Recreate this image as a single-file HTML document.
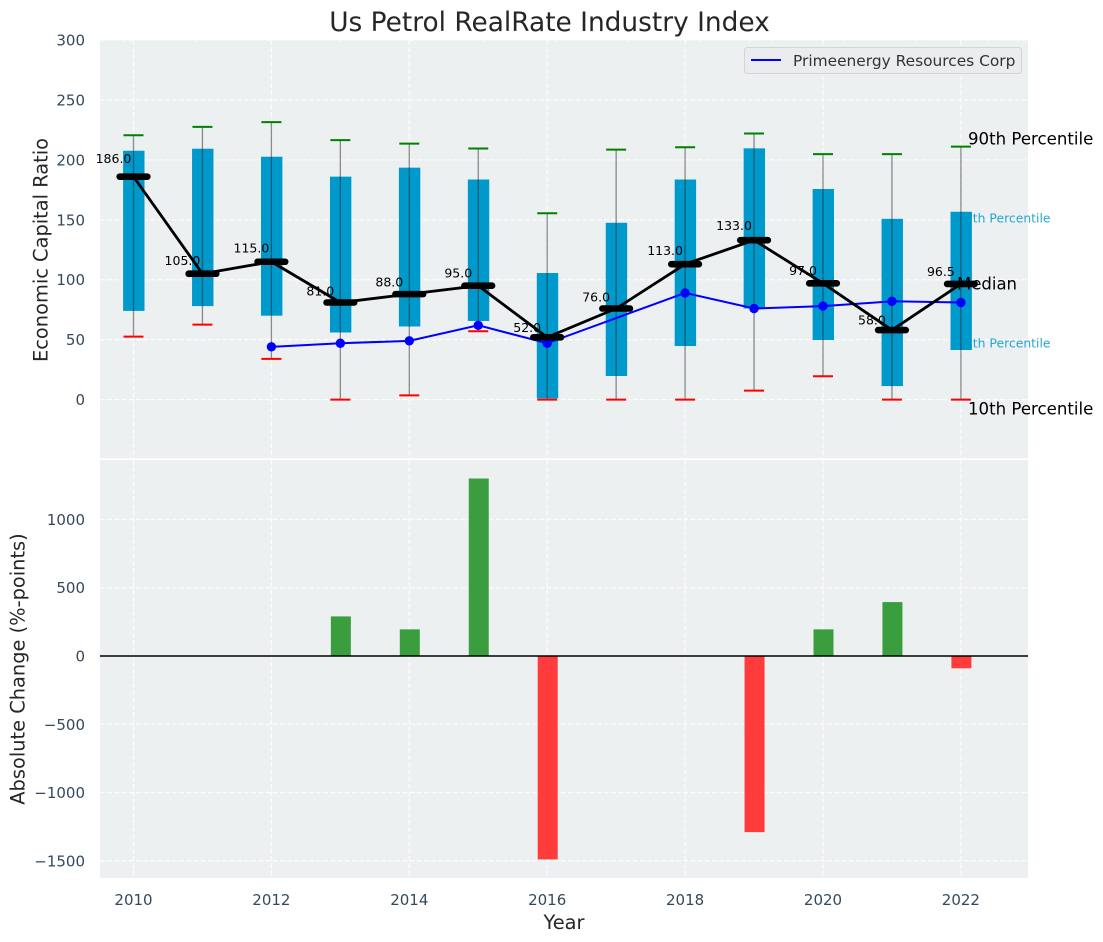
<!DOCTYPE html>
<html lang="en">
<head>
<meta charset="utf-8">
<title>Us Petrol RealRate Industry Index</title>
<style>
html,body{margin:0;padding:0;background:#fff;}
svg{display:block;font-family:"DejaVu Sans","Liberation Sans",sans-serif;}
</style>
</head>
<body>
<svg id="chart" xmlns="http://www.w3.org/2000/svg" width="1103" height="942" viewBox="0 0 1103 942"></svg>
<script>
const years = [2010,2011,2012,2013,2014,2015,2016,2017,2018,2019,2020,2021,2022];
const p90 = [220.5,227.5,231.5,216.5,213.5,209.5,155.5,208.5,210.5,222,204.8,204.8,211];
const p75 = [207.6,209.3,202.6,186,193.5,183.6,105.6,147.5,183.6,209.6,175.7,150.8,156.7];
const medians = [186,105,115,81,88,95,52,76,113,133,97,58,96.5];
const p25 = [74,78,70,56,61,65.6,1,19.7,44.7,76,49.7,11.3,41.4];
const p10 = [52.5,62.5,34,0,3.5,57,0,0,0,7.5,19.5,0,0];
const company = [null,null,44,47,49,62,47,null,89,76,78,82,81];
const changes = [0,0,0,290,195,1300,-1490,0,0,-1290,195,395,-90];
const medianLabels = ['186.0','105.0','115.0','81.0','88.0','95.0','52.0','76.0','113.0','133.0','97.0','58.0','96.5'];
const xTicks = [2010,2012,2014,2016,2018,2020,2022];
const topTicks = [0,50,100,150,200,250,300];
const bottomTicks = [-1500,-1000,-500,0,500,1000];

const NS = 'http://www.w3.org/2000/svg';
const svg = document.getElementById('chart');
const LEFT = 100, RIGHT = 1028;
const TOP1 = 40, BOT1 = 458.3, TOP2 = 460, BOT2 = 878;

function xScale(v){ return 133.5 + (v - 2010) * 68.95; }
function yTop(v){ return 399.6 - v * 1.1987; }
function yBottom(v){ return 656 - v * 0.13653; }

function make(tag, attrs, text){
  const el = document.createElementNS(NS, tag);
  for (const k in attrs) el.setAttribute(k, attrs[k]);
  if (text !== undefined) el.textContent = text;
  svg.appendChild(el);
  return el;
}
function fmt(v){ return v < 0 ? '\u2212' + Math.abs(v) : String(v); }

/* panels */
let el = make('rect',{x:LEFT,y:TOP1,width:RIGHT-LEFT,height:BOT1-TOP1,fill:'#ecf0f1'});


el = make('rect',{x:LEFT,y:TOP2,width:RIGHT-LEFT,height:BOT2-TOP2,fill:'#ecf0f1'});



/* grids */
const gridStyle = {stroke:'#ffffff','stroke-width':1.3,'stroke-dasharray':'5 2.2','stroke-opacity':0.8};
xTicks.forEach(function(t){
  const a = make('line',Object.assign({x1:xScale(t),x2:xScale(t),y1:TOP1,y2:BOT1},gridStyle));
  
  
  const b = make('line',Object.assign({x1:xScale(t),x2:xScale(t),y1:TOP2,y2:BOT2},gridStyle));
  
  
  const lab = make('text',{x:xScale(t),y:905,'text-anchor':'middle','font-size':15,fill:'#34495e'},String(t));
  
  
});
topTicks.forEach(function(t){
  const a = make('line',Object.assign({x1:LEFT,x2:RIGHT,y1:yTop(t),y2:yTop(t)},gridStyle));
  
  
  const lab = make('text',{x:85,y:yTop(t)+5.5,'text-anchor':'end','font-size':15,fill:'#34495e'},fmt(t));
  
  
});
bottomTicks.forEach(function(t){
  const a = make('line',Object.assign({x1:LEFT,x2:RIGHT,y1:yBottom(t),y2:yBottom(t)},gridStyle));
  
  
  const lab = make('text',{x:85,y:yBottom(t)+5.5,'text-anchor':'end','font-size':15,fill:'#34495e'},fmt(t));
  
  
});

/* percentile notes that sit behind the boxes */
el = make('text',{x:957,y:222.5,'font-size':12.4,fill:'#0099cc','fill-opacity':0.85},'75th Percentile');


el = make('text',{x:957,y:347.5,'font-size':12.4,fill:'#0099cc','fill-opacity':0.85},'25th Percentile');



/* boxes */
years.forEach(function(y,i){
  const x = xScale(y);
  const box = make('rect',{x:x-10.4,y:yTop(p75[i]),width:21.4,height:yTop(p25[i])-yTop(p75[i]),fill:'#0099cc'});
  
  
  const w = make('line',{x1:x,x2:x,y1:yTop(p90[i]),y2:yTop(p10[i]),stroke:'#222222','stroke-opacity':0.5,'stroke-width':1.3});
  
  
  const c1 = make('line',{x1:x-10,x2:x+10,y1:yTop(p90[i]),y2:yTop(p90[i]),stroke:'#008000','stroke-width':2});
  
  
  const c2 = make('line',{x1:x-10,x2:x+10,y1:yTop(p10[i]),y2:yTop(p10[i]),stroke:'#ff0000','stroke-width':2});
  
  
});

/* company series */
const companyPts = [];
years.forEach(function(y,i){ if (company[i] !== null) companyPts.push(xScale(y)+','+yTop(company[i])); });
el = make('polyline',{points:companyPts.join(' '),fill:'none',stroke:'#0000ff','stroke-width':2});


years.forEach(function(y,i){
  if (company[i] === null) return;
  const d = make('circle',{cx:xScale(y),cy:yTop(company[i]),r:4.7,fill:'#0000ff'});
  
  
});

/* median series */
el = make('polyline',{points:years.map(function(y,i){return xScale(y)+','+yTop(medians[i]);}).join(' '),fill:'none',stroke:'#000000','stroke-width':2.8});


years.forEach(function(y,i){
  const x = xScale(y), yy = yTop(medians[i]);
  const m = make('line',{x1:x-13.8,x2:x+13.8,y1:yy,y2:yy,stroke:'#000000','stroke-width':6.6,'stroke-linecap':'round'});
  
  
  const t = make('text',{x:x-20,y:yTop(medians[i]*1.05)-2.3,'text-anchor':'middle','font-size':12.5,fill:'#000000'},medianLabels[i]);
  
  
});

/* notes */
el = make('text',{x:968,y:144.5,'font-size':16.6,fill:'#000000'},'90th Percentile');


el = make('text',{x:957,y:289.5,'font-size':16.5,fill:'#000000'},'Median');


el = make('text',{x:968,y:414.5,'font-size':16.6,fill:'#000000'},'10th Percentile');



/* change bars */
years.forEach(function(y,i){
  if (changes[i] === 0) return;
  const x = xScale(y)+0.5, y0 = yBottom(0), y1 = yBottom(changes[i]);
  const b = make('rect',{x:x-10,y:Math.min(y0,y1),width:20,height:Math.abs(y1-y0),fill:changes[i] > 0 ? '#3a9e3e' : '#ff3b3b'});
  
  
});
el = make('line',{x1:LEFT,x2:RIGHT,y1:yBottom(0),y2:yBottom(0),stroke:'#000000','stroke-width':1.4});



/* legend */
el = make('rect',{x:744.5,y:47.5,width:277,height:26,rx:3,fill:'#eaecf0',stroke:'#d2d4d8','stroke-width':1});


el = make('line',{x1:751,x2:781,y1:60,y2:60,stroke:'#0000ff','stroke-width':2});


el = make('text',{x:793,y:66,'font-size':15.4,fill:'#333333'},'Primeenergy Resources Corp');



/* titles */
el = make('text',{x:549.5,y:31,'text-anchor':'middle','font-size':26.4,fill:'#262626'},'Us Petrol RealRate Industry Index');


el = make('text',{x:564,y:929,'text-anchor':'middle','font-size':19.4,fill:'#262626'},'Year');


el = make('text',{x:47.5,y:250,'text-anchor':'middle','font-size':19.4,fill:'#262626',transform:'rotate(-90 47.5 250)'},'Economic Capital Ratio');


el = make('text',{x:24.5,y:669,'text-anchor':'middle','font-size':19.4,fill:'#262626',transform:'rotate(-90 24.5 669)'},'Absolute Change (%-points)');


</script>
</body>
</html>
